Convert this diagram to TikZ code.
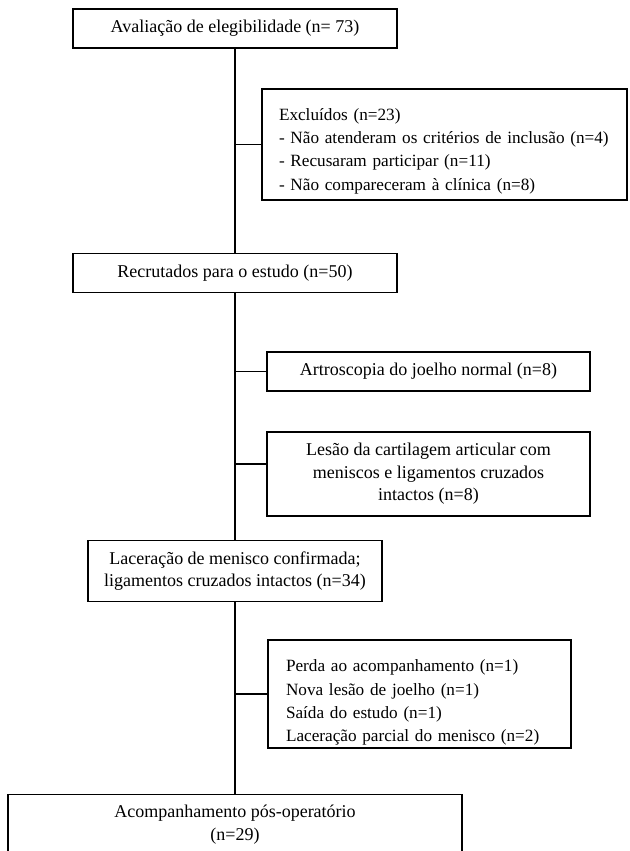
\documentclass[tikz,border=0pt]{standalone}
\usepackage{fontspec}
\setmainfont{Liberation Serif}
\usetikzlibrary{positioning}
\newcommand{\toppad}[1]{\rule{0pt}{#1}}
\tikzset{%
   box/.style={draw=black, line width=1.2pt, inner sep=2pt, align=center,
     font=\fontsize{18}{22.5}\selectfont},
   listbox/.style={box, align=left, inner xsep=17pt,
     font=\fontsize{17.2}{23.3}\selectfont},
   link/.style={line width=1.2pt},
}

\begin{document}
\begin{tikzpicture}[x=1pt, y=1pt]
   \useasboundingbox (0,0) rectangle (629,-851);
   % main column
   \node[box, minimum width=324pt, minimum height=39pt] (aval) at (235,-28.5)
      {Avaliação de elegibilidade (n= 73)};
   \node[box, minimum width=324pt, minimum height=39pt, below=204pt of aval] (recr)
      {Recrutados para o estudo (n=50)};
   \node[box, minimum width=294pt, minimum height=61pt, below=247pt of recr] (lacer)
      {Laceração de menisco confirmada;\\ ligamentos cruzados intactos (n=34)};
   \node[box, minimum width=454pt, minimum height=60pt, below=192pt of lacer] (acomp)
      {Acompanhamento pós-operatório\\ (n=29)};
   % side boxes
   \node[listbox, text width=331pt, minimum height=111pt] (excl) at (444.5,-144.5)
      {\toppad{25pt}Excluídos (n=23)\\
       - Não atenderam os critérios de inclusão (n=4)\\
       - Recusaram participar (n=11)\\
       - Não compareceram à clínica (n=8)};
   \node[box, minimum width=323pt, minimum height=39pt] (artro) at (428.5,-371.5)
      {Artroscopia do joelho normal (n=8)};
   \node[box, minimum width=323pt, minimum height=84pt] (lesao) at (428.5,-474)
      {Lesão da cartilagem articular com\\ meniscos e ligamentos cruzados\\ intactos (n=8)};
   \node[listbox, inner xsep=18pt, text width=267pt, minimum height=108pt] (perda) at (419.5,-694)
      {\toppad{29.5pt}Perda ao acompanhamento (n=1)\\
       Nova lesão de joelho (n=1)\\
       Saída do estudo (n=1)\\
       Laceração parcial do menisco (n=2)};
   % trunk
   \draw[link] (aval) -- (recr);
   \draw[link] (recr) -- (lacer);
   \draw[link] (lacer) -- (acomp);
   % branches
   \coordinate (j1) at (235,-144.5);
   \coordinate (j2) at (235,-371.5);
   \coordinate (j3) at (235,-464);
   \coordinate (j4) at (235,-694);
   \draw[link] (j1) -- (excl.west);
   \draw[link] (j2) -- (artro.west);
   \draw[link] (j3) -- (j3 -| lesao.west);
   \draw[link] (j4) -- (perda.west);
\end{tikzpicture}
\end{document}
